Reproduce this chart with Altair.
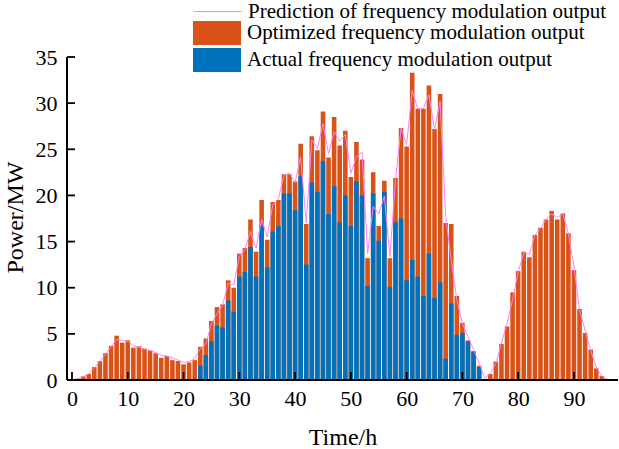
import altair as alt
import pandas as pd

# Hourly frequency-modulation output, MW (t = 1..96)
hours = list(range(1, 97))

optimized = [
    0.15, 0.4, 0.65, 1.4, 2.05, 2.9, 3.7, 4.8, 4.05, 4.3,
    3.5, 3.65, 3.4, 3.2, 2.9, 2.4, 2.6, 2.15, 2.05, 1.7,
    1.9, 2.15, 3.6, 4.5, 6.4, 7.9, 8.2, 10.8, 10.0, 13.7,
    14.3, 17.4, 13.9, 19.5, 15.2, 19.3, 19.5, 22.3, 22.3, 21.5,
    25.6, 16.9, 26.4, 24.9, 29.1, 24.1, 28.5, 25.4, 27.0, 22.0,
    25.8, 23.9, 13.2, 22.5, 16.7, 21.6, 13.2, 21.9, 27.3, 25.3,
    33.3, 29.4, 29.4, 31.9, 27.2, 31.0, 17.0, 16.9, 9.1, 6.2,
    4.3, 3.1, 1.55, 0.0, 0.65, 2.0, 3.9, 5.8, 9.5, 11.8,
    13.9, 13.3, 15.7, 16.5, 17.4, 18.3, 17.4, 18.05, 15.9, 11.9,
    7.7, 5.1, 3.3, 1.26, 0.43, 0.0,
]

actual = [
    0, 0, 0, 0, 0, 0, 0, 0, 0, 0,
    0, 0, 0, 0, 0, 0, 0, 0, 0, 0,
    0, 0, 1.55, 2.7, 4.2, 5.9, 5.7, 8.6, 7.4, 11.2,
    11.7, 14.4, 11.2, 16.7, 12.2, 16.1, 16.7, 20.2, 20.2, 18.4,
    22.1, 12.5, 21.4, 20.4, 23.7, 18.0, 21.0, 17.1, 20.0, 16.7,
    21.5, 20.0, 10.2, 20.2, 15.1, 20.4, 10.1, 17.1, 17.5, 10.8,
    13.0, 11.2, 9.1, 13.7, 8.9, 10.6, 2.3, 8.3, 4.9, 5.1,
    4.2, 3.1, 1.4, 0, 0, 0, 0, 0, 0, 0,
    0, 0, 0, 0, 0, 0, 0, 0, 0, 0,
    0, 0, 0, 0, 0, 0,
]

predicted = [
    0.1, 0.35, 0.7, 1.3, 2.0, 2.8, 3.6, 4.4, 4.3, 4.2,
    3.7, 3.55, 3.35, 3.2, 2.95, 2.7, 2.6, 2.4, 2.15, 1.9,
    2.0, 2.3, 3.4, 3.9, 6.1, 7.2, 8.1, 10.5, 10.3, 13.4,
    14.1, 16.1, 14.3, 17.4, 15.5, 19.0, 19.6, 22.2, 22.4, 21.4,
    24.2, 17.0, 26.0, 25.1, 27.8, 24.5, 26.9, 25.9, 26.6, 22.4,
    24.2, 24.7, 13.7, 18.8, 18.0, 19.9, 13.4, 21.7, 27.3, 25.5,
    31.4, 29.4, 29.4, 30.9, 27.1, 30.2, 17.7, 13.0, 8.7, 6.1,
    4.7, 3.3, 1.8, 0.2, 0.7, 1.8, 4.0, 6.1, 8.7, 11.7,
    13.8, 13.6, 15.7, 16.4, 17.4, 18.0, 17.6, 18.0, 15.9, 12.3,
    7.6, 5.4, 3.2, 1.4, 0.36, 0.05,
]

x_ticks = [0, 10, 20, 30, 40, 50, 60, 70, 80, 90]
y_ticks = [0, 5, 10, 15, 20, 25, 30, 35]

PRED = "Prediction of frequency modulation output"
OPT = "Optimized frequency modulation output"
ACT = "Actual frequency modulation output"

ORANGE = "#D95319"
BLUE = "#0072BD"
PINK = "#FF80FF"
FONT = "Liberation Serif"
LEGEND_FONT_SIZE = 21

W, H = 551, 323

df = pd.DataFrame({"t": hours, OPT: optimized, ACT: actual, PRED: predicted})
xt = pd.DataFrame({"t": x_ticks})
yt = pd.DataFrame({"value": y_ticks})

x_scale = alt.Scale(domain=[0, 97], nice=False, zero=False)
y_scale = alt.Scale(domain=[0, 35], nice=False)

axis_style = dict(
    domain=False, ticks=False, grid=False,
    labelFont=FONT, labelFontSize=22, labelColor="black",
    titleFont=FONT, titleFontSize=24, titleColor="black",
    titleFontWeight="normal",
)

x_axis = alt.Axis(
    title="Time/h", values=x_ticks, labelPadding=8,
    titleY=57, titleBaseline="middle", **axis_style,
)
y_axis = alt.Axis(
    title="Power/MW", values=y_ticks, labelPadding=10,
    titleX=-52, titleY=160, titleAlign="center", titleBaseline="middle",
    **axis_style,
)

bars = (
    alt.Chart(df)
    .transform_fold([OPT, ACT], as_=["series", "value"])
    .mark_bar(size=4.6)
    .encode(
        x=alt.X("t:Q", scale=x_scale, axis=x_axis),
        y=alt.Y("value:Q", scale=y_scale, axis=y_axis, stack=None),
        fill=alt.Fill(
            "series:N",
            scale=alt.Scale(domain=[OPT, ACT], range=[ORANGE, BLUE]),
            legend=alt.Legend(
                title=None, orient="none", legendX=126, legendY=-36,
                symbolType="M-1,-1H3V1H-1Z", symbolSize=576,
                symbolStrokeWidth=0, symbolOpacity=1, labelOffset=30,
                rowPadding=3, padding=0, labelLimit=0,
                labelFont=FONT, labelFontSize=LEGEND_FONT_SIZE,
                labelColor="black",
            ),
        ),
    )
)

line = (
    alt.Chart(df)
    .transform_fold([PRED], as_=["series", "value"])
    .mark_line(strokeWidth=1)
    .encode(
        x=alt.X("t:Q", scale=x_scale),
        y=alt.Y("value:Q", scale=y_scale),
        stroke=alt.Stroke(
            "series:N",
            scale=alt.Scale(domain=[PRED], range=[PINK]),
            legend=alt.Legend(
                title=None, orient="none", legendX=126, legendY=-58,
                symbolType="M-1,0H3", symbolSize=576,
                symbolStrokeWidth=1, labelOffset=30, padding=0,
                labelLimit=0, labelFont=FONT,
                labelFontSize=LEGEND_FONT_SIZE, labelColor="black",
            ),
        ),
    )
)

# inward-pointing tick marks
x_tick_marks = alt.Chart(xt).mark_rule(stroke="black", strokeWidth=1.8).encode(
    x=alt.X("t:Q", scale=x_scale), y=alt.value(H), y2=alt.value(H - 8)
)
y_tick_marks = alt.Chart(yt).mark_rule(stroke="black", strokeWidth=1.8).encode(
    y=alt.Y("value:Q", scale=y_scale), x=alt.value(0), x2=alt.value(8)
)

# axis lines along the left and bottom edges of the plot
y_axis_line = alt.Chart(yt).mark_rule(stroke="black", strokeWidth=2).encode(
    x=alt.value(0), y=alt.value(0), y2=alt.value(H)
)
x_axis_line = alt.Chart(xt).mark_rule(stroke="black", strokeWidth=2).encode(
    y=alt.value(H), x=alt.value(0), x2=alt.value(W)
)

chart = (
    alt.layer(bars, line, x_tick_marks, y_tick_marks, y_axis_line, x_axis_line)
    .properties(
        width=W, height=H,
        autosize=alt.AutoSizeParams(type="none"),
        padding={"left": 67, "top": 57, "right": 1, "bottom": 69},
        background="white",
    )
    .configure(font=FONT)
    .configure_view(stroke=None)
)

chart.save("out.html", embed_options={"renderer": "svg", "actions": False})
